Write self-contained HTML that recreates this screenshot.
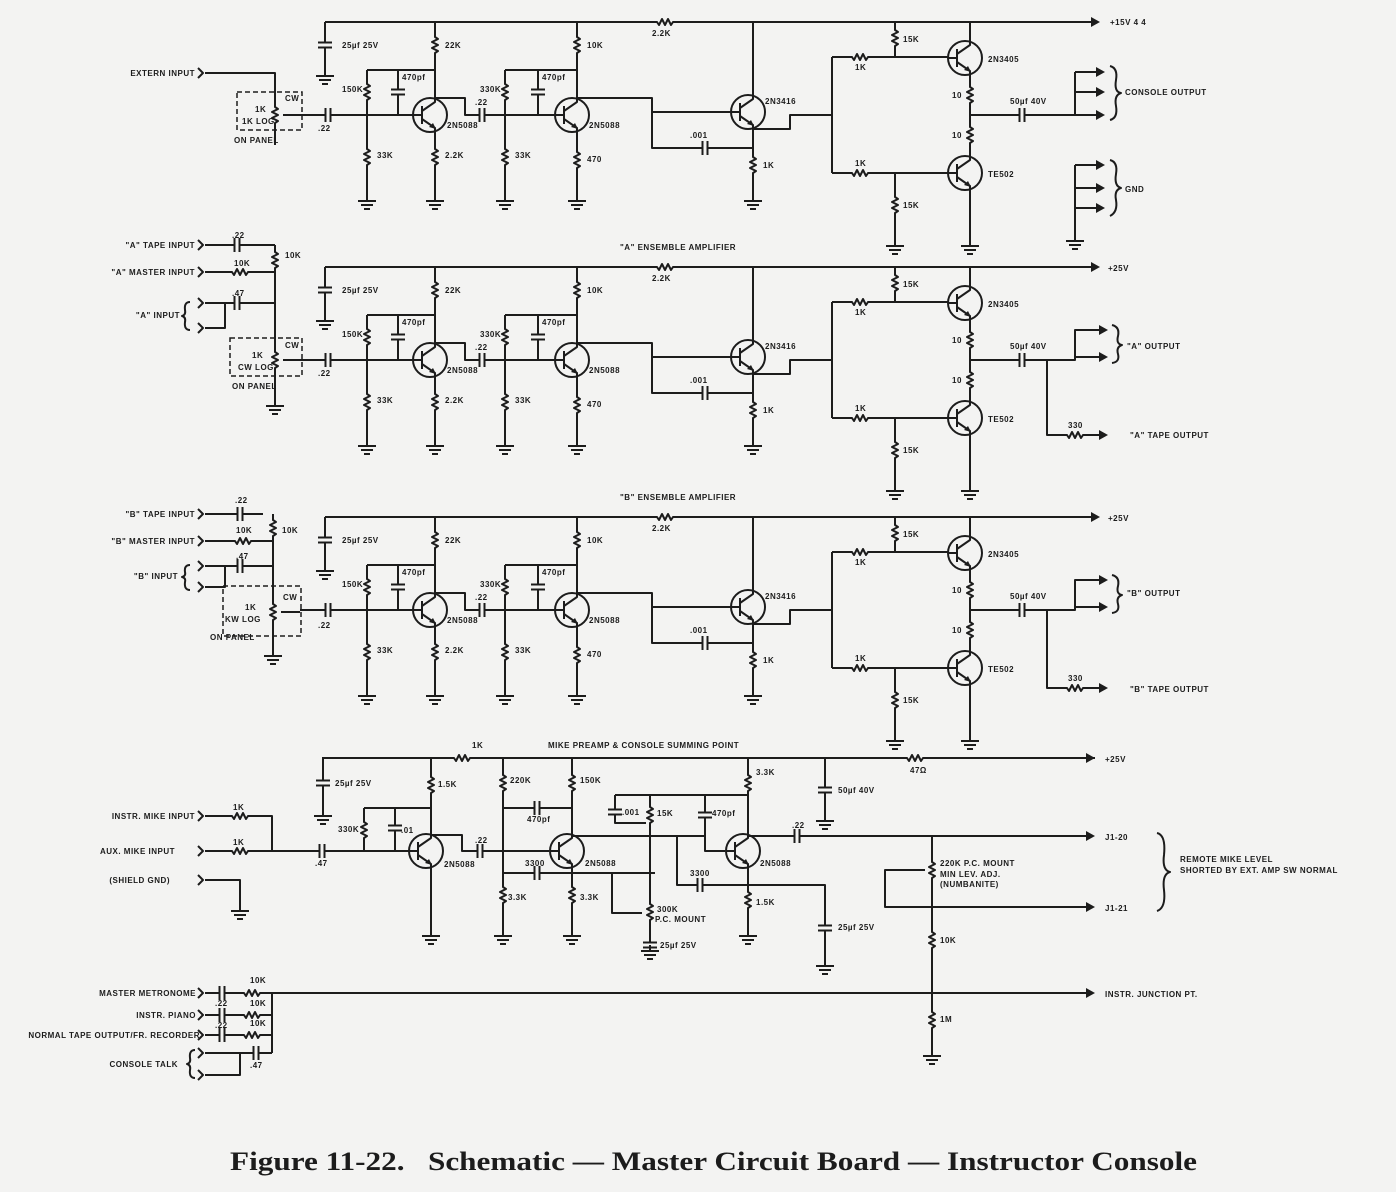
<!DOCTYPE html>
<html><head><meta charset="utf-8"><style>
html,body{margin:0;padding:0;background:#f3f3f2;}
svg{display:block;}
.w{fill:none;stroke:#1c1c1c;stroke-width:2;stroke-linejoin:round;}
text{font-family:"Liberation Sans",sans-serif;font-weight:bold;font-size:8px;fill:#1c1c1c;letter-spacing:0.5px;}
.cap{font-family:"Liberation Serif",serif;font-size:26px;font-weight:bold;letter-spacing:0;white-space:pre;}
</style></head><body>
<svg width="1396" height="1192" viewBox="0 0 1396 1192" xmlns="http://www.w3.org/2000/svg">
<defs>
<g id="rv"><rect x="-4" y="-11" width="8" height="22" fill="#f3f3f2"/><polyline class="w" points="0,-11 0,-8 3,-6 -3,-3 3,0 -3,3 3,6 0,8 0,11"/></g>
<g id="rh"><use href="#rv" transform="rotate(90)"/></g>
<g id="cv"><rect x="-8" y="-3" width="16" height="6" fill="#f3f3f2"/><path class="w" d="M-7 -2.5H7M-7 2.5H7"/></g>
<g id="ch"><use href="#cv" transform="rotate(90)"/></g>
<g id="gnd"><path class="w" d="M0 0V6M-9 6H9M-6 10H6M-3 14H3"/></g>
<g id="tr"><circle r="17" class="w"/><path class="w" d="M-17 0H-8M-8 -9V9M-8 -4L5 -13V-17M-8 4L5 13V17"/><path d="M6 14L-1 12L3 8Z" fill="#1c1c1c"/></g>
<g id="ar"><path d="M-9 -5L0 0L-9 5Z" fill="#1c1c1c"/></g>
<g id="jk"><path class="w" d="M-4 -5L1 0L-4 5"/></g>
<g id="amp">
<path class="w" d="M325 22H1095M325 22V70M435 22V98M367 70H435M367 70V195M398 70V115M300 115H413M435 132V195M435 98H465V115H555M505 70V195M505 70H577M538 70V115M577 22V98M577 132V195M577 98H652V148H753M652 112H731M753 22V95M753 129V195M753 129H790V115H832M832 57V173M832 57H948M895 22V57M832 173H948M895 173V240M970 22V41M970 75V156M970 115H1047M970 190V240"/>
<use href="#cv" x="325" y="45"/><use href="#gnd" x="325" y="70"/>
<use href="#rv" x="435" y="45"/><use href="#rv" x="367" y="92"/><use href="#rv" x="367" y="157"/><use href="#gnd" x="367" y="195"/>
<use href="#cv" x="398" y="92"/><use href="#ch" x="328" y="115"/>
<use href="#tr" x="430" y="115"/><use href="#rv" x="435" y="157"/><use href="#gnd" x="435" y="195"/>
<use href="#ch" x="482" y="115"/>
<use href="#rv" x="505" y="92"/><use href="#rv" x="505" y="157"/><use href="#gnd" x="505" y="195"/>
<use href="#cv" x="538" y="92"/><use href="#tr" x="572" y="115"/>
<use href="#rv" x="577" y="45"/><use href="#rv" x="577" y="160"/><use href="#gnd" x="577" y="195"/>
<use href="#ch" x="705" y="148"/><use href="#tr" x="748" y="112"/>
<use href="#rv" x="753" y="165"/><use href="#gnd" x="753" y="195"/>
<use href="#rh" x="860" y="57"/><use href="#rv" x="895" y="38"/><use href="#rh" x="860" y="173"/><use href="#rv" x="895" y="205"/><use href="#gnd" x="895" y="240"/>
<use href="#tr" x="965" y="58"/><use href="#tr" x="965" y="173"/>
<use href="#rv" x="970" y="95"/><use href="#rv" x="970" y="135"/><use href="#ch" x="1022" y="115"/><use href="#gnd" x="970" y="240"/>
<use href="#ar" x="1100" y="22"/><use href="#rh" x="665" y="22"/>
<text x="342" y="48">25µf 25V</text><text x="445" y="48">22K</text><text x="342" y="92">150K</text><text x="377" y="158">33K</text>
<text x="402" y="80">470pf</text><text x="445" y="158">2.2K</text><text x="447" y="128">2N5088</text><text x="475" y="105">.22</text>
<text x="480" y="92">330K</text><text x="515" y="158">33K</text><text x="542" y="80">470pf</text><text x="587" y="48">10K</text><text x="587" y="162">470</text><text x="589" y="128">2N5088</text>
<text x="690" y="138">.001</text><text x="763" y="168">1K</text><text x="765" y="104">2N3416</text><text x="652" y="36">2.2K</text>
<text x="903" y="42">15K</text><text x="855" y="70">1K</text><text x="855" y="166">1K</text><text x="903" y="208">15K</text>
<text x="988" y="62">2N3405</text><text x="988" y="177">TE502</text><text x="952" y="98">10</text><text x="952" y="138">10</text><text x="1010" y="104">50µf 40V</text>
</g>
</defs>

<use href="#amp"/>
<text x="1110" y="25">+15V 4 4</text>
<path class="w" d="M1047 115H1075M1075 72V115M1075 72H1100M1075 92H1100M1075 115H1100M1075 165V235M1075 165H1100M1075 188H1100M1075 208H1100"/>
<use href="#ar" x="1105" y="72"/><use href="#ar" x="1105" y="92"/><use href="#ar" x="1105" y="115"/>
<use href="#ar" x="1105" y="165"/><use href="#ar" x="1105" y="188"/><use href="#ar" x="1105" y="208"/><use href="#gnd" x="1075" y="235"/>
<path class="w" d="M1110 66Q1118 68 1116 80Q1114 92 1121 93Q1114 95 1116 106Q1118 118 1110 120"/>
<path class="w" d="M1110 160Q1118 162 1116 174Q1114 186 1121 188Q1114 190 1116 200Q1118 212 1110 216"/>
<text x="1125" y="95">CONSOLE OUTPUT</text><text x="1125" y="192">GND</text>
<text x="195" y="76" text-anchor="end">EXTERN INPUT</text><use href="#jk" x="202" y="73"/>
<path class="w" d="M205 73H275V145M283 115H300"/><use href="#rv" x="275" y="115"/>
<rect x="237" y="92" width="65" height="38" fill="none" stroke="#1c1c1c" stroke-width="1.5" stroke-dasharray="5,3"/>
<text x="255" y="112">1K</text><text x="242" y="124">1K LOG</text><text x="234" y="143">ON PANEL</text><text x="285" y="101">CW</text><text x="318" y="131">.22</text>

<use href="#amp" y="245"/>
<text x="1108" y="271">+25V</text>
<text x="620" y="250">"A" ENSEMBLE AMPLIFIER</text>
<path class="w" d="M1047 360H1075V330H1104M1075 357H1104M1047 360V435H1104"/>
<use href="#ar" x="1108" y="330"/><use href="#ar" x="1108" y="357"/><use href="#ar" x="1108" y="435"/><use href="#rh" x="1075" y="435"/>
<path class="w" d="M1112 325Q1120 327 1118 336Q1116 344 1122 345Q1116 347 1118 354Q1120 362 1112 363"/>
<text x="1127" y="349">"A" OUTPUT</text><text x="1068" y="428">330</text><text x="1130" y="438">"A" TAPE OUTPUT</text>
<text x="195" y="248" text-anchor="end">"A" TAPE INPUT</text><text x="195" y="275" text-anchor="end">"A" MASTER INPUT</text><text x="180" y="318" text-anchor="end">"A" INPUT</text>
<use href="#jk" x="202" y="245"/><use href="#jk" x="202" y="272"/><use href="#jk" x="202" y="303"/><use href="#jk" x="202" y="328"/>
<path class="w" d="M205 245H275M205 272H275M205 303H275M225 303V328H205M275 245V400M283 360H300"/>
<use href="#ch" x="237" y="245"/><use href="#rh" x="240" y="272"/><use href="#ch" x="237" y="303"/><use href="#rv" x="275" y="260"/><use href="#rv" x="275" y="360"/><use href="#gnd" x="275" y="400"/>
<path class="w" d="M190 302Q184 302 185 310Q186 315 182 316Q186 317 185 322Q184 330 190 330"/>
<rect x="230" y="338" width="72" height="38" fill="none" stroke="#1c1c1c" stroke-width="1.5" stroke-dasharray="5,3"/>
<text x="232" y="238">.22</text><text x="285" y="258">10K</text><text x="234" y="266">10K</text><text x="232" y="296">.47</text>
<text x="252" y="358">1K</text><text x="238" y="370">CW LOG</text><text x="232" y="389">ON PANEL</text><text x="285" y="348">CW</text><text x="318" y="376">.22</text>

<use href="#amp" y="495"/>
<text x="1108" y="521">+25V</text>
<text x="620" y="500">"B" ENSEMBLE AMPLIFIER</text>
<path class="w" d="M1047 610H1075V580H1104M1075 607H1104M1047 610V688H1104"/>
<use href="#ar" x="1108" y="580"/><use href="#ar" x="1108" y="607"/><use href="#ar" x="1108" y="688"/><use href="#rh" x="1075" y="688"/>
<path class="w" d="M1112 575Q1120 577 1118 586Q1116 594 1122 595Q1116 597 1118 604Q1120 612 1112 613"/>
<text x="1127" y="596">"B" OUTPUT</text><text x="1068" y="681">330</text><text x="1130" y="692">"B" TAPE OUTPUT</text>
<text x="195" y="517" text-anchor="end">"B" TAPE INPUT</text><text x="195" y="544" text-anchor="end">"B" MASTER INPUT</text><text x="178" y="579" text-anchor="end">"B" INPUT</text>
<use href="#jk" x="202" y="514"/><use href="#jk" x="202" y="541"/><use href="#jk" x="202" y="566"/><use href="#jk" x="202" y="587"/>
<path class="w" d="M205 514H263M205 541H273M205 566H273M225 566V587H205M273 514V650M281 612H300"/>
<use href="#ch" x="240" y="514"/><use href="#rh" x="243" y="541"/><use href="#ch" x="240" y="566"/><use href="#rv" x="273" y="528"/><use href="#rv" x="273" y="612"/><use href="#gnd" x="273" y="650"/>
<path class="w" d="M190 565Q184 565 185 572Q186 576 182 577Q186 578 185 582Q184 590 190 590"/>
<rect x="223" y="586" width="78" height="50" fill="none" stroke="#1c1c1c" stroke-width="1.5" stroke-dasharray="5,3"/>
<text x="235" y="503">.22</text><text x="282" y="533">10K</text><text x="236" y="533">10K</text><text x="236" y="559">.47</text>
<text x="245" y="610">1K</text><text x="225" y="622">KW LOG</text><text x="210" y="640">ON PANEL</text><text x="283" y="600">CW</text><text x="318" y="628">.22</text>

<text x="548" y="748">MIKE PREAMP &amp; CONSOLE SUMMING POINT</text>
<path class="w" d="M322 758H1095M323 758V810M431 758V835M364 808H431M364 808V851M395 808V851M205 816H272V851M205 851H409M431 867V930M431 835H462V851H549M503 758V930M503 808H572M503 873H655M572 758V835M572 867V930M572 836H705V851H725M705 795V836M615 795H748M615 795V823H650M650 795V945M612 873V913H642M677 836V885H748M748 758V835M748 867V930M748 885H825V960M825 758V815M748 836H1088M932 836V1050M932 907H1088M925 870H885V907H932M205 880H240V905"/>
<use href="#cv" x="323" y="783"/><use href="#gnd" x="323" y="810"/>
<use href="#rv" x="431" y="785"/><use href="#rv" x="364" y="830"/><use href="#cv" x="395" y="828"/><use href="#ch" x="322" y="851"/>
<use href="#rh" x="240" y="816"/><use href="#rh" x="240" y="851"/>
<use href="#tr" x="426" y="851"/><use href="#gnd" x="431" y="930"/><use href="#ch" x="480" y="851"/>
<use href="#rv" x="503" y="783"/><use href="#rv" x="503" y="895"/><use href="#gnd" x="503" y="930"/>
<use href="#ch" x="537" y="808"/><use href="#ch" x="537" y="873"/>
<use href="#tr" x="567" y="851"/><use href="#rv" x="572" y="783"/><use href="#rv" x="572" y="895"/><use href="#gnd" x="572" y="930"/>
<use href="#cv" x="615" y="812"/><use href="#rv" x="650" y="815"/><use href="#rv" x="650" y="912"/><use href="#cv" x="650" y="945"/><use href="#gnd" x="650" y="945"/>
<use href="#cv" x="705" y="815"/><use href="#ch" x="700" y="885"/>
<use href="#tr" x="743" y="851"/><use href="#rv" x="748" y="783"/><use href="#rv" x="748" y="900"/><use href="#gnd" x="748" y="930"/>
<use href="#cv" x="825" y="928"/><use href="#gnd" x="825" y="960"/><use href="#cv" x="825" y="790"/><use href="#gnd" x="825" y="815"/>
<use href="#ch" x="797" y="836"/><use href="#rh" x="915" y="758"/><use href="#rh" x="462" y="758"/>
<use href="#rv" x="932" y="870"/><use href="#rv" x="932" y="940"/><use href="#rv" x="932" y="1020"/><use href="#gnd" x="932" y="1050"/>
<use href="#ar" x="1095" y="758"/><use href="#ar" x="1095" y="836"/><use href="#ar" x="1095" y="907"/><use href="#gnd" x="240" y="905"/>
<use href="#jk" x="202" y="816"/><use href="#jk" x="202" y="851"/><use href="#jk" x="202" y="880"/>
<path class="w" d="M1157 833Q1166 835 1164 855Q1162 870 1170 872Q1162 874 1164 890Q1166 908 1157 911"/>
<text x="1105" y="762">+25V</text><text x="1105" y="840">J1-20</text><text x="1105" y="911">J1-21</text>
<text x="1180" y="862">REMOTE MIKE LEVEL</text><text x="1180" y="873">SHORTED BY EXT. AMP SW NORMAL</text>
<text x="195" y="819" text-anchor="end">INSTR. MIKE INPUT</text><text x="175" y="854" text-anchor="end">AUX. MIKE INPUT</text><text x="170" y="883" text-anchor="end">(SHIELD GND)</text>
<text x="335" y="786">25µf 25V</text><text x="438" y="787">1.5K</text><text x="338" y="832">330K</text><text x="401" y="833">.01</text><text x="315" y="866">.47</text>
<text x="444" y="867">2N5088</text><text x="475" y="843">.22</text><text x="510" y="783">220K</text><text x="508" y="900">3.3K</text><text x="525" y="866">3300</text><text x="527" y="822">470pf</text>
<text x="580" y="783">150K</text><text x="580" y="900">3.3K</text><text x="585" y="866">2N5088</text><text x="622" y="815">.001</text><text x="657" y="816">15K</text><text x="712" y="816">470pf</text>
<text x="657" y="912">300K</text><text x="655" y="922">P.C. MOUNT</text><text x="660" y="948">25µf 25V</text><text x="690" y="876">3300</text>
<text x="756" y="775">3.3K</text><text x="760" y="866">2N5088</text><text x="756" y="905">1.5K</text><text x="792" y="828">.22</text><text x="838" y="793">50µf 40V</text><text x="838" y="930">25µf 25V</text>
<text x="910" y="773">47Ω</text><text x="472" y="748">1K</text><text x="233" y="810">1K</text><text x="233" y="845">1K</text>
<text x="940" y="866">220K P.C. MOUNT</text><text x="940" y="877">MIN LEV. ADJ.</text><text x="940" y="887">(NUMBANITE)</text><text x="940" y="943">10K</text><text x="940" y="1022">1M</text>

<path class="w" d="M205 993H1088M205 1015H272M205 1035H272M205 1053H272M240 1053V1075H205M272 993V1053"/>
<use href="#ch" x="222" y="993"/><use href="#rh" x="252" y="993"/><use href="#ch" x="222" y="1015"/><use href="#rh" x="252" y="1015"/><use href="#ch" x="222" y="1035"/><use href="#rh" x="252" y="1035"/><use href="#ch" x="256" y="1053"/>
<use href="#jk" x="202" y="993"/><use href="#jk" x="202" y="1015"/><use href="#jk" x="202" y="1035"/><use href="#jk" x="202" y="1053"/><use href="#jk" x="202" y="1075"/>
<use href="#ar" x="1095" y="993"/>
<path class="w" d="M195 1050Q189 1050 190 1058Q191 1063 187 1064Q191 1065 190 1070Q189 1078 195 1078"/>
<text x="1105" y="997">INSTR. JUNCTION PT.</text>
<text x="196" y="996" text-anchor="end">MASTER METRONOME</text><text x="196" y="1018" text-anchor="end">INSTR. PIANO</text><text x="200" y="1038" text-anchor="end">NORMAL TAPE OUTPUT/FR. RECORDER</text><text x="178" y="1067" text-anchor="end">CONSOLE TALK</text>
<text x="215" y="1006">.22</text><text x="215" y="1028">.22</text><text x="250" y="983">10K</text><text x="250" y="1006">10K</text><text x="250" y="1026">10K</text><text x="250" y="1068">.47</text>

<text class="cap" x="230" y="1170" textLength="967" lengthAdjust="spacingAndGlyphs">Figure 11-22.   Schematic — Master Circuit Board — Instructor Console</text>
</svg>
</body></html>
